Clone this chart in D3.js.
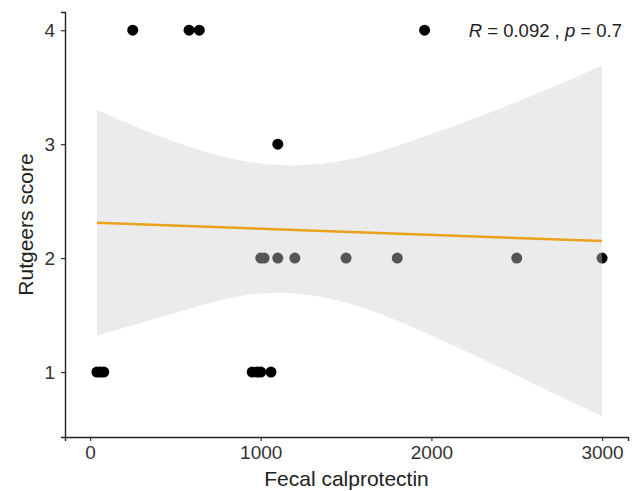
<!DOCTYPE html>
<html>
<head>
<meta charset="utf-8">
<script src="https://cdn.jsdelivr.net/npm/d3@7"></script>
<style>
  body { margin: 0; background: #fff; }
  text { font-family: "Liberation Sans", Arial, sans-serif; }
</style>
</head>
<body>
<svg id="chart" width="640" height="491"></svg>
<script>
// Data points (Fecal calprotectin, Rutgeers score)
const calprotectin = [250, 580, 640, 1960, 1100, 1000, 1020, 1100, 1200, 1500, 1800, 2500, 3000, 40, 60, 80, 950, 980, 1000, 1060];
const rutgeers     = [4, 4, 4, 4, 3, 2, 2, 2, 2, 2, 2, 2, 2, 1, 1, 1, 1, 1, 1, 1];

// Fitted line and confidence band
const fitX = [40, 3000];
const fitY = [2.31, 2.15];
const bandX = [40, 500, 1000, 1500, 2000, 2500, 3000];
const bandUpper = [3.30, 3.02, 2.83, 2.86, 3.09, 3.37, 3.69];
const bandLower = [1.32, 1.52, 1.69, 1.61, 1.32, 0.97, 0.61];

const xTicks = [0, 1000, 2000, 3000];
const yTicks = [1, 2, 3, 4];

const svg = d3.select("#chart");
const plotLeft = 65, plotRight = 628, plotTop = 12, plotBottom = 437;

const x = d3.scaleLinear().domain([-147, 3152]).range([plotLeft, plotRight]);
const y = d3.scaleLinear().domain([0.43, 4.16]).range([plotBottom, plotTop]);

// Points first, ribbon drawn over them like ggplot
const points = calprotectin.map((v, i) => ({ x: v, y: rutgeers[i] }));
svg.append("g").selectAll("circle")
  .data(points)
  .join("circle")
  .attr("cx", d => x(d.x))
  .attr("cy", d => y(d.y))
  .attr("r", 5.5)
  .attr("fill", "#000");

const band = bandX.map((v, i) => ({ x: v, lo: bandLower[i], hi: bandUpper[i] }));
const area = d3.area()
  .x(d => x(d.x))
  .y0(d => y(d.lo))
  .y1(d => y(d.hi))
  .curve(d3.curveNatural);

svg.append("path")
  .datum(band)
  .attr("d", area)
  .attr("fill", "#cfcfcf")
  .attr("fill-opacity", 0.41);

const fit = fitX.map((v, i) => ({ x: v, y: fitY[i] }));
svg.append("path")
  .datum(fit)
  .attr("d", d3.line().x(d => x(d.x)).y(d => y(d.y)))
  .attr("fill", "none")
  .attr("stroke", "#E8A21C")
  .attr("stroke-width", 2.5);

// Axes
const xAxis = svg.append("g")
  .attr("transform", `translate(0,${plotBottom})`)
  .call(d3.axisBottom(x).tickValues(xTicks).tickFormat(d3.format("d")).tickSize(4).tickPadding(5));
const yAxis = svg.append("g")
  .attr("transform", `translate(${plotLeft},0)`)
  .call(d3.axisLeft(y).tickValues(yTicks).tickFormat(d3.format("d")).tickSize(4).tickPadding(6));

[xAxis, yAxis].forEach(a => {
  a.select(".domain").attr("stroke", "#222").attr("stroke-width", 1.4);
  a.selectAll(".tick line").attr("stroke", "#333").attr("stroke-width", 1.2);
  a.selectAll(".tick text")
    .attr("font-size", "19px")
    .attr("fill", "#333")
    .style("font-family", "'Liberation Sans', Arial, sans-serif");
});

// Axis titles
svg.append("text")
  .attr("x", (plotLeft + plotRight) / 2)
  .attr("y", 486)
  .attr("text-anchor", "middle")
  .attr("font-size", "21px")
  .attr("fill", "#222")
  .text("Fecal calprotectin");

svg.append("text")
  .attr("transform", `translate(33,${(plotTop + plotBottom) / 2}) rotate(-90)`)
  .attr("text-anchor", "middle")
  .attr("font-size", "21px")
  .attr("fill", "#222")
  .text("Rutgeers score");

// Correlation annotation
const ann = svg.append("text")
  .attr("x", 622)
  .attr("y", 37)
  .attr("text-anchor", "end")
  .attr("font-size", "18.5px")
  .attr("fill", "#222");
ann.append("tspan").attr("font-style", "italic").text("R");
ann.append("tspan").text(" = 0.092 , ");
ann.append("tspan").attr("font-style", "italic").text("p");
ann.append("tspan").text(" = 0.7");
</script>
</body>
</html>
